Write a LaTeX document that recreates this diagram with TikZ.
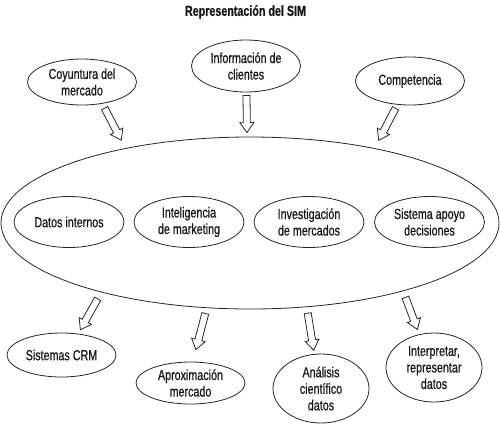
\documentclass[tikz,border=0pt]{standalone}
\usepackage{fontspec}
\setmainfont{Liberation Sans}[FakeStretch=0.74, FakeBold=0.8]
\usepackage{xcolor}
\usepackage{tikz}
\usetikzlibrary{shapes.geometric}
\usetikzlibrary{calc}
\definecolor{linea}{gray}{0.15}
\definecolor{letra}{gray}{0.1}

\begin{document}
\begin{tikzpicture}[x=1pt,y=-1pt]

\useasboundingbox (0,0) rectangle (500,424);

% Define block styles
\tikzstyle{elipse}=[draw=linea, ellipse, line width=0.8pt, inner sep=0pt,
  align=center, text=letra, font=\fontsize{14.5}{16.5}\selectfont]
\tikzstyle{fuente}=[elipse, minimum width=109pt, minimum height=46pt]
\tikzstyle{interno}=[elipse, minimum width=110pt, minimum height=51pt]
\tikzstyle{salida}=[elipse, minimum width=96pt, minimum height=69pt]
\tikzstyle{flechalinea}=[draw=linea, line width=0.8pt, line join=miter]

% Define arrow sizes
\newcommand{\astil}{3.5pt}
\newcommand{\punta}{7pt}
\newcommand{\puntadist}{10pt}

% Hollow arrow between two anchors, with a gap at each end
\newcommand{\flecha}[4]{%
  \path ($(#1)!#3!(#2)$) coordinate (fs);
  \path ($(#2)!#4!(#1)$) coordinate (fe);
  \path ($(fe)!\puntadist!(fs)$) coordinate (fn);
  \path [flechalinea] ($(fs)!\astil!90:(fe)$) -- ($(fn)!\astil!-90:(fs)$)
    -- ($(fn)!\punta!-90:(fs)$) -- (fe) -- ($(fn)!\punta!90:(fs)$)
    -- ($(fn)!\astil!90:(fs)$) -- ($(fs)!\astil!-90:(fe)$) -- cycle;}

% Title
\path node at (245.5,12) (titulo) [text=letra,
  font=\bfseries\fontsize{14.5}{16}\selectfont] {Representación del SIM};

% Sources
\path node at (82,82) (coy) [fuente] {Coyuntura del\\mercado};
\path node at (246,66) (info) [fuente, minimum height=52pt]
  {Información de\\clientes};
\path node at (410,81) (comp) [fuente, minimum height=48pt] {Competencia};

% The SIM and its parts
\path node at (250,223) (sim) [elipse, minimum width=498pt,
  minimum height=172pt] {};
\path node at (69,222) (datos) [interno] {Datos internos};
\path node at (189,222) (intel) [interno] {Inteligencia\\de marketing};
\path node at (309,222) (inves) [interno] {Investigación\\de mercados};
\path node at (429.5,222) (apoyo) [interno] {Sistema apoyo\\decisiones};

% Outputs
\path node at (61.5,355) (crm) [fuente, minimum height=44pt] {Sistemas CRM};
\path node at (190.5,383) (aprox) [fuente, minimum height=42pt]
  {Aproximación\\mercado};
\path node at (321,388.5) (anal) [salida] {Análisis\\científico\\datos};
\path node at (434,367.5) (interp) [salida]
  {Interpretar,\\representar\\datos};

% Draw arrows
\flecha{coy.-47}{sim.149}{5pt}{9pt}
\flecha{info.-89}{sim.92}{3pt}{4pt}
\flecha{comp.-118}{sim.31.5}{4pt}{9pt}
\flecha{sim.-155.7}{crm.52.7}{7.4pt}{4.5pt}
\flecha{sim.-117.3}{aprox.84.3}{5.5pt}{12.4pt}
\flecha{sim.-56.8}{anal.101.8}{6.2pt}{3.8pt}
\flecha{sim.-24.8}{interp.114.3}{6.6pt}{5.2pt}

\end{tikzpicture}
\end{document}
